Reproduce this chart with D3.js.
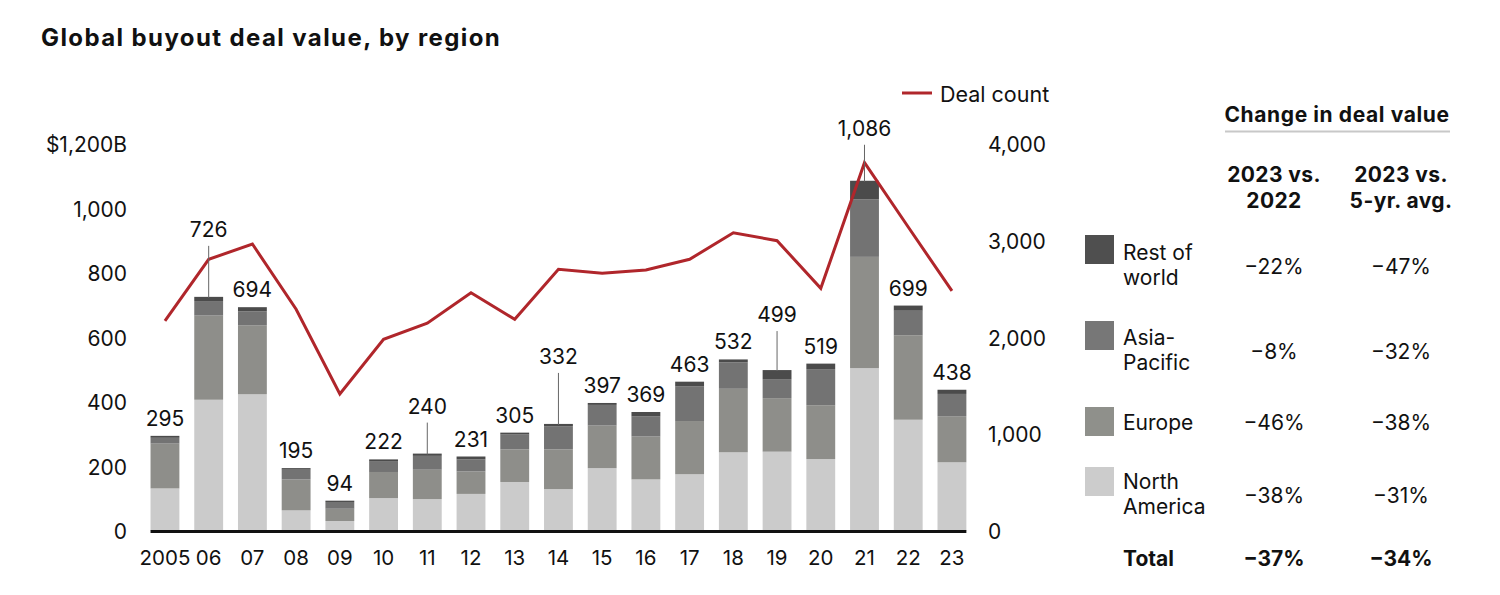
<!DOCTYPE html>
<html>
<head>
<meta charset="utf-8">
<script src="https://cdn.jsdelivr.net/npm/d3@7"></script>
<style>
  html, body { margin: 0; padding: 0; background: #fff; }
  svg text { font-family: Inter, "Noto Sans", "Liberation Sans", sans-serif; fill: #111; }
</style>
</head>
<body>
<svg id="chart" width="1500" height="595"></svg>
<script>
// ---------- data ----------
const years = ["2005","06","07","08","09","10","11","12","13","14","15","16","17","18","19","20","21","22","23"];
const northAmerica = [132,407,424,64,31,102,99,115,152,130,195,160,176,244,246,223,505,345,213];
const europe       = [139,261,214,96,38,81,91,70,101,123,132,133,165,197,166,167,345,262,143];
const asiaPacific  = [18,45,43,30,21,32,43,37,46,72,64,62,107,82,59,112,178,76,69];
const restOfWorld  = [6,13,13,5,4,7,7,9,6,7,6,14,15,9,28,17,58,16,13];
const totals       = [295,726,694,195,94,222,240,231,305,332,397,369,463,532,499,519,1086,699,438];
const dealCount    = [2171,2808,2966,2292,1416,1981,2147,2463,2188,2705,2664,2698,2808,3083,3001,2508,3807,3142,2481];
const leftTicks    = [0,200,400,600,800,1000,1200];
const rightTicks   = [0,1000,2000,3000,4000];
const regions      = ["Rest of world","Asia-Pacific","Europe","North America"];
const change2022   = ["−22%","−8%","−46%","−38%"];
const change5yr    = ["−47%","−32%","−38%","−31%"];
const totalChange  = ["−37%","−34%"];
// years whose value label is lifted with a leader line (lift in px)
const leaderLift = {"06":60,"11":40,"14":60,"19":48,"21":45};

// ---------- layout ----------
const svg = d3.select("#chart");
const seriesKeys = ["na","eu","ap","row"];
const colors = {na:"#cbcbcb", eu:"#8e8e8a", ap:"#737373", row:"#4b4b4b"};
const legendColors = {"Rest of world":"#4f4f4f","Asia-Pacific":"#777777","Europe":"#8f908b","North America":"#cccccc"};

const rows = years.map((y,i)=>({year:y, na:northAmerica[i], eu:europe[i], ap:asiaPacific[i], row:restOfWorld[i], total:totals[i], deals:dealCount[i]}));

const x = d3.scaleBand().domain(years).range([143.1, 973.8]).paddingInner(0.34).paddingOuter(0.17);
const y = d3.scaleLinear().domain([0,1200]).range([531,144]);
const y2 = d3.scaleLinear().domain([0,4000]).range([531,144]);

// title
svg.append("text").attr("x",41).attr("y",46).attr("font-size",24).attr("font-weight",700)
  .attr("letter-spacing",1.4).text("Global buyout deal value, by region");

// bars
const stack = d3.stack().keys(seriesKeys)(rows);
svg.append("g").selectAll("g").data(stack).join("g")
  .attr("fill", d=>colors[d.key])
  .selectAll("rect").data(d=>d).join("rect")
  .attr("x", d=>x(d.data.year))
  .attr("width", x.bandwidth())
  .attr("y", d=>y(d[1]))
  .attr("height", d=>y(d[0])-y(d[1]));

// baseline
svg.append("line")
  .attr("x1", x(years[0])).attr("x2", x(years[years.length-1])+x.bandwidth())
  .attr("y1", 531.5).attr("y2", 531.5).attr("stroke","#111").attr("stroke-width",3);

// left axis
const la = d3.axisLeft(y).tickValues(leftTicks).tickSize(0).tickPadding(0)
  .tickFormat(d=> d===1200 ? "$1,200B" : d3.format(",")(d));
const lg = svg.append("g").attr("transform","translate(127,0)").call(la);
lg.select(".domain").remove();
lg.selectAll("text").attr("font-size",21).attr("fill","#111").attr("dy","0.36em").style("font-family","Inter, sans-serif");

// right axis
const ra = d3.axisRight(y2).tickValues(rightTicks).tickSize(0).tickPadding(0).tickFormat(d3.format(","));
const rg = svg.append("g").attr("transform","translate(988,0)").call(ra);
rg.select(".domain").remove();
rg.selectAll("text").attr("font-size",21).attr("fill","#111").attr("dy","0.36em").style("font-family","Inter, sans-serif");

// x axis labels
const xa = d3.axisBottom(x).tickSize(0).tickPadding(0);
const xg = svg.append("g").attr("transform","translate(0,565)").call(xa);
xg.select(".domain").remove();
xg.selectAll("text").attr("font-size",20.5).attr("fill","#111").attr("dy",0).style("font-family","Inter, sans-serif");

// deal count line
const line = d3.line().x(d=>x(d.year)+x.bandwidth()/2).y(d=>y2(d.deals));
svg.append("path").datum(rows).attr("d",line).attr("fill","none")
  .attr("stroke","#b0262b").attr("stroke-width",3).attr("stroke-linejoin","miter");

// value labels and leaders
rows.forEach(d=>{
  const cx = x(d.year)+x.bandwidth()/2;
  const top = y(d.total);
  const lift = leaderLift[d.year];
  const base = lift ? top - lift : top - 10;
  if (lift) {
    svg.append("line").attr("x1",cx).attr("x2",cx).attr("y1",base+9).attr("y2",top+1)
      .attr("stroke","#666").attr("stroke-width",1);
  }
  svg.append("text").attr("x",cx).attr("y",base).attr("text-anchor","middle")
    .attr("font-size",21).text(d3.format(",")(d.total));
});

// legend for line
svg.append("line").attr("x1",902).attr("x2",932).attr("y1",93).attr("y2",93)
  .attr("stroke","#b0262b").attr("stroke-width",3);
svg.append("text").attr("x",940).attr("y",102).attr("font-size",21.5).text("Deal count");

// table
const c1 = 1274, c2 = 1401;
svg.append("text").attr("x",1337).attr("y",122).attr("text-anchor","middle")
  .attr("font-size",21).attr("font-weight",700).attr("letter-spacing",0.6).text("Change in deal value");
svg.append("line").attr("x1",1225).attr("x2",1450).attr("y1",131.5).attr("y2",131.5)
  .attr("stroke","#c8c8c8").attr("stroke-width",2);
[["2023 vs.","2022",c1],["2023 vs.","5-yr. avg.",c2]].forEach(h=>{
  svg.append("text").attr("x",h[2]).attr("y",182).attr("text-anchor","middle").attr("font-size",21).attr("font-weight",700).attr("letter-spacing",0.4).text(h[0]);
  svg.append("text").attr("x",h[2]).attr("y",208).attr("text-anchor","middle").attr("font-size",21).attr("font-weight",700).attr("letter-spacing",0.4).text(h[1]);
});

const legendLayout = [
  {sq:235, lines:["Rest of","world"], base:260, val:274},
  {sq:321, lines:["Asia-","Pacific"], base:345, val:359},
  {sq:407, lines:["Europe"], base:429.5, val:429.5},
  {sq:467, lines:["North","America"], base:488.5, val:502.5}
];
regions.forEach((r,i)=>{
  const L = legendLayout[i];
  svg.append("rect").attr("x",1085).attr("y",L.sq).attr("width",29).attr("height",29).attr("fill",legendColors[r]);
  const t = svg.append("text").attr("x",1123).attr("y",L.base).attr("font-size",21);
  L.lines.forEach((ln,j)=>t.append("tspan").attr("x",1123).attr("dy",j===0?0:25).text(ln));
  svg.append("text").attr("x",c1).attr("y",L.val).attr("text-anchor","middle").attr("font-size",21).text(change2022[i]);
  svg.append("text").attr("x",c2).attr("y",L.val).attr("text-anchor","middle").attr("font-size",21).text(change5yr[i]);
});
svg.append("text").attr("x",1123).attr("y",566).attr("font-size",21).attr("font-weight",700).text("Total");
svg.append("text").attr("x",c1).attr("y",566).attr("text-anchor","middle").attr("font-size",21).attr("font-weight",700).text(totalChange[0]);
svg.append("text").attr("x",c2).attr("y",566).attr("text-anchor","middle").attr("font-size",21).attr("font-weight",700).text(totalChange[1]);
</script>
</body>
</html>
